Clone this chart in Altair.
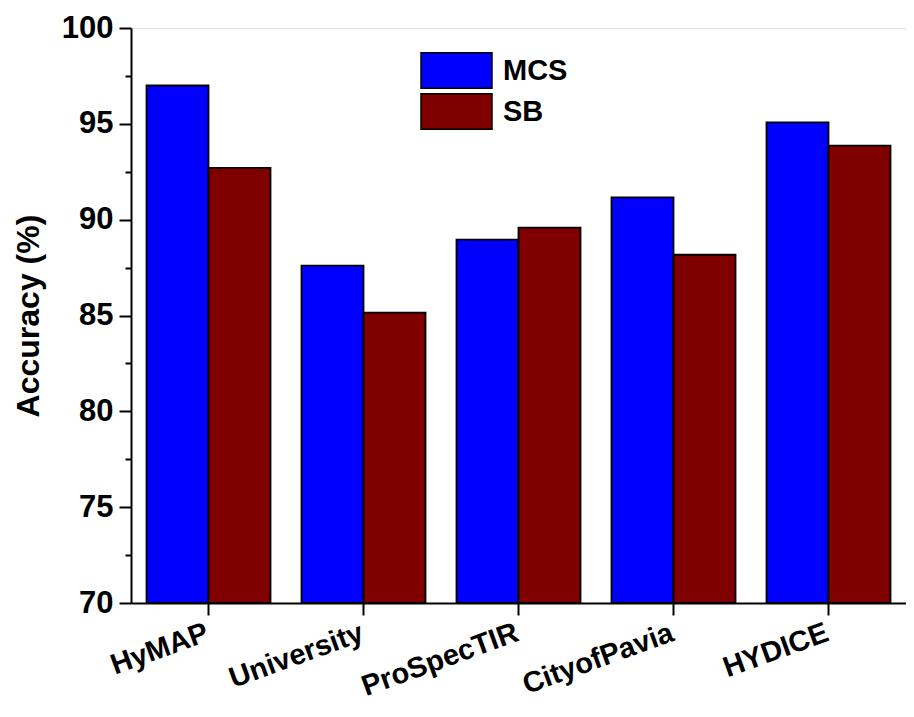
import altair as alt
import pandas as pd

datasets = ["HyMAP", "University", "ProSpecTIR", "CityofPavia", "HYDICE"]
series = ["MCS", "SB"]
mcs = [97.0, 87.6, 88.96, 91.16, 95.08]
sb = [92.7, 85.15, 89.58, 88.17, 93.86]
colors = ["#0000FF", "#800000"]
y_ticks = [70, 72.5, 75, 77.5, 80, 82.5, 85, 87.5, 90, 92.5, 95, 97.5, 100]
y_base = 70

rows = []
for d, m, s in zip(datasets, mcs, sb):
    rows.append({"Dataset": d, "Method": "MCS", "Accuracy": m})
    rows.append({"Dataset": d, "Method": "SB", "Accuracy": s})
df = pd.DataFrame(rows)

FONT = "Liberation Sans"

chart = alt.Chart(df).mark_bar(stroke="black", strokeWidth=1.8).encode(
    x=alt.X("Dataset:N", sort=datasets,
            scale=alt.Scale(paddingInner=0.2, paddingOuter=0.1),
            axis=alt.Axis(title=None, labelAngle=-20, labelAlign="right",
                          labelBaseline="top", labelPadding=3, labelOffset=-6,
                          tickSize=12, tickWidth=2, domainWidth=2, domainColor="black",
                          tickColor="black", labelFontSize=29,
                          labelFontWeight="bold", labelColor="black", grid=False)),
    xOffset=alt.XOffset("Method:N", sort=series,
                        scale=alt.Scale(paddingInner=0, paddingOuter=0)),
    y=alt.Y("Accuracy:Q", scale=alt.Scale(domain=[70, 100], zero=False, nice=False),
            axis=alt.Axis(title="Accuracy (%)", values=y_ticks,
                          labelExpr="datum.value % 5 === 0 ? datum.label : ''",
                          tickSize={"condition": {"test": "datum.value % 5 === 0", "value": 12}, "value": 6},
                          tickWidth=2, domainWidth=2, domainColor="black",
                          tickColor="black", labelFontSize=31,
                          labelFontWeight="bold", labelColor="black",
                          labelPadding=6, grid=False,
                          titleFontSize=32, titleFontWeight="bold",
                          titleColor="black", titlePadding=16)),
    y2=alt.datum(y_base),
    color=alt.Color("Method:N", sort=series,
                    scale=alt.Scale(domain=series, range=colors),
                    legend=alt.Legend(title=None, orient="none", legendX=307, legendY=24,
                                      symbolType="M-2,-1H2V1H-2Z", symbolSize=1260,
                                      symbolStrokeColor="black", symbolStrokeWidth=1.5,
                                      symbolOpacity=1,
                                      labelFontSize=29, labelFontWeight="bold",
                                      labelColor="black", labelOffset=28,
                                      rowPadding=-2, padding=0)),
).properties(
    width=775, height=575,
    padding={"left": 123, "top": 20, "right": 0, "bottom": 106},
    autosize="none",
).configure_view(stroke=None).configure_axis(grid=False).configure(font=FONT)

chart.save("out.html", embed_options={"renderer": "svg", "actions": False})
